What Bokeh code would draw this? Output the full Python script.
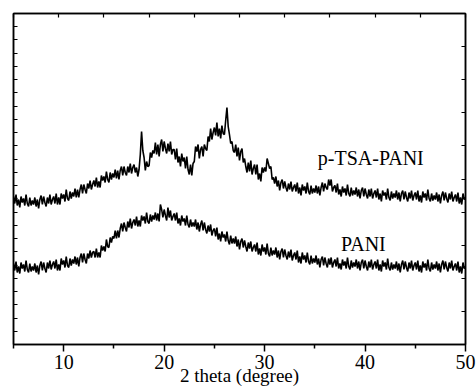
import numpy as np
from bokeh.plotting import figure
from bokeh.models import LinearAxis, FixedTicker, Label, Range1d
from bokeh.embed import file_html
from bokeh.resources import INLINE

# 2-theta scan grid (degrees), 0.125 degree step
two_theta = np.round(np.arange(5.0, 50.001, 0.125), 3)

# Intensity (a.u.), one row per degree
pani = [
    81, 74, 83, 72, 78, 71, 82, 76,
    80, 73, 84, 75, 72, 81, 73, 78,
    74, 81, 72, 79, 70, 79, 83, 74,
    82, 76, 72, 82, 76, 84, 75, 80,
    83, 76, 85, 74, 80, 74, 86, 80,
    84, 77, 88, 79, 77, 86, 79, 85,
    81, 88, 80, 87, 78, 87, 91, 82,
    91, 85, 81, 91, 86, 94, 87, 92,
    93, 87, 96, 87, 92, 87, 99, 94,
    98, 93, 105, 98, 97, 107, 102, 108,
    106, 114, 106, 114, 107, 116, 121, 113,
    122, 117, 113, 123, 117, 126, 116, 122,
    125, 119, 128, 118, 124, 118, 129, 124,
    128, 121, 132, 123, 121, 130, 123, 129,
    125, 132, 124, 131, 123, 140, 135, 127,
    135, 129, 124, 137, 127, 134, 124, 128,
    131, 124, 132, 121, 126, 119, 129, 123,
    126, 119, 129, 120, 117, 125, 118, 122,
    118, 125, 115, 122, 113, 120, 124, 114,
    122, 115, 111, 119, 113, 120, 109, 114,
    116, 108, 117, 105, 111, 103, 113, 107,
    110, 103, 113, 104, 100, 109, 101, 106,
    101, 108, 98, 105, 95, 103, 106, 97,
    104, 98, 93, 102, 96, 103, 93, 97,
    100, 93, 102, 90, 96, 89, 100, 93,
    97, 90, 101, 91, 88, 97, 89, 94,
    90, 97, 87, 94, 85, 93, 96, 87,
    95, 89, 85, 93, 87, 95, 84, 89,
    92, 85, 94, 82, 88, 81, 92, 85,
    89, 82, 92, 83, 80, 89, 81, 86,
    82, 89, 80, 86, 77, 85, 88, 79,
    87, 81, 77, 86, 80, 87, 77, 82,
    85, 78, 87, 76, 81, 75, 85, 79,
    83, 76, 87, 78, 75, 84, 77, 82,
    78, 85, 76, 83, 74, 82, 85, 76,
    84, 78, 74, 83, 77, 85, 75, 80,
    83, 76, 85, 74, 80, 73, 84, 78,
    82, 75, 86, 77, 74, 82, 75, 80,
    76, 83, 74, 81, 72, 80, 84, 75,
    83, 77, 73, 82, 76, 84, 74, 79,
    82, 75, 84, 73, 79, 72, 83, 77,
    81, 74, 85, 76, 73, 82, 75, 80,
    76, 83, 74, 81, 72, 80, 84, 75,
    83, 77, 73, 82, 76, 84, 74, 78,
    81, 74, 83, 72, 78, 71, 82, 76,
    78,
]

ptsa_pani = [
    148, 141, 150, 139, 145, 137, 148, 142,
    146, 139, 150, 141, 138, 147, 139, 144,
    140, 147, 138, 145, 136, 145, 149, 140,
    148, 142, 138, 147, 141, 150, 140, 145,
    148, 141, 151, 140, 147, 140, 151, 146,
    150, 143, 155, 146, 144, 153, 146, 152,
    148, 156, 147, 155, 147, 155, 160, 151,
    160, 155, 151, 161, 156, 164, 155, 160,
    164, 158, 167, 157, 163, 157, 169, 164,
    168, 162, 173, 165, 162, 172, 165, 171,
    167, 175, 166, 174, 165, 174, 178, 169,
    178, 172, 169, 178, 172, 181, 171, 177,
    180, 172, 177, 168, 175, 190, 213, 194,
    187, 174, 183, 178, 179, 192, 187, 194,
    191, 202, 190, 200, 188, 200, 205, 193,
    203, 196, 191, 201, 193, 203, 190, 195,
    195, 185, 196, 182, 188, 178, 191, 183,
    187, 176, 188, 175, 170, 180, 169, 181,
    183, 198, 193, 200, 186, 195, 198, 188,
    200, 196, 194, 208, 203, 216, 205, 212,
    217, 209, 222, 208, 216, 206, 219, 211,
    210, 224, 237, 218, 210, 201, 203, 194,
    192, 200, 188, 197, 184, 193, 196, 182,
    186, 178, 172, 182, 173, 184, 170, 176,
    180, 170, 180, 165, 171, 163, 177, 172,
    177, 173, 186, 181, 176, 178, 165, 167,
    161, 168, 158, 164, 154, 162, 165, 156,
    163, 157, 153, 161, 155, 163, 153, 157,
    160, 153, 162, 151, 157, 149, 160, 154,
    158, 151, 162, 153, 150, 159, 151, 156,
    152, 159, 151, 158, 149, 157, 162, 153,
    161, 157, 155, 165, 159, 165, 153, 157,
    159, 152, 161, 150, 155, 148, 158, 152,
    156, 149, 160, 151, 148, 157, 149, 154,
    150, 157, 148, 155, 146, 154, 157, 148,
    156, 150, 146, 155, 148, 156, 146, 151,
    154, 147, 156, 145, 151, 143, 154, 149,
    152, 145, 156, 147, 144, 153, 146, 151,
    147, 154, 145, 152, 143, 151, 154, 145,
    153, 147, 143, 152, 146, 154, 144, 149,
    152, 145, 154, 143, 149, 142, 153, 147,
    151, 144, 155, 146, 143, 151, 144, 149,
    145, 152, 143, 150, 141, 149, 153, 144,
    152, 146, 142, 151, 145, 153, 143, 147,
    150, 143, 152, 141, 147, 140, 151, 145,
    147,
]

x_major = [10, 20, 30, 40, 50]
x_minor = [5, 15, 25, 35, 45]
x_label = "2 theta (degree)"
series_names = ["p-TSA-PANI", "PANI"]

FONT = "Liberation Serif"
Y_MAX = 331

p = figure(width=476, height=392, output_backend="svg", toolbar_location=None,
           x_range=Range1d(5, 50), y_range=Range1d(0, Y_MAX),
           min_border_left=13, min_border_right=11, min_border_top=13,
           min_border_bottom=48)
p.grid.visible = False
p.outline_line_color = "black"
p.outline_line_width = 1.5
p.background_fill_color = "white"
p.border_fill_color = "white"

xa = p.xaxis[0]
xa.ticker = FixedTicker(ticks=x_major, minor_ticks=x_minor)
xa.major_tick_in = 0
xa.major_tick_out = 7
xa.minor_tick_in = 0
xa.minor_tick_out = 4
xa.axis_line_width = 1.5
xa.major_tick_line_width = 1.5
xa.minor_tick_line_width = 1.5
xa.major_label_text_font = FONT
xa.major_label_text_font_size = "20px"
xa.major_label_text_color = "black"
xa.major_label_standoff = 3
xa.axis_label = x_label
xa.axis_label_text_font = FONT
xa.axis_label_text_font_size = "19px"
xa.axis_label_text_font_style = "normal"
xa.axis_label_text_color = "black"
xa.axis_label_standoff = -7

ya = p.yaxis[0]
ya.ticker = FixedTicker(ticks=[i * Y_MAX / 25 for i in range(26)])
ya.major_tick_in = 4
ya.major_tick_out = 0
ya.minor_tick_line_color = None
ya.axis_line_width = 1.5
ya.major_tick_line_width = 1.2
ya.major_label_text_color = None
ya.major_label_text_font_size = "1px"
ya.major_label_standoff = 0

right = LinearAxis(ticker=FixedTicker(ticks=[i * Y_MAX / 10 for i in range(11)]),
                   major_tick_in=4, major_tick_out=0, minor_tick_line_color=None,
                   axis_line_width=1.5, major_tick_line_width=1.2,
                   major_label_text_color=None,
                   major_label_text_font_size="1px", major_label_standoff=0)
p.add_layout(right, "right")

top = LinearAxis(ticker=FixedTicker(ticks=[5 + 4.5 * i for i in range(11)]),
                 major_tick_in=4, major_tick_out=0, minor_tick_line_color=None,
                 axis_line_width=1.5, major_tick_line_width=1.2,
                 major_label_text_color=None,
                 major_label_text_font_size="1px", major_label_standoff=0)
p.add_layout(top, "above")

p.line(two_theta, ptsa_pani, line_color="black", line_width=1.6)
p.line(two_theta, pani, line_color="black", line_width=1.6)

p.add_layout(Label(x=35.3, y=187, text=series_names[0], text_font=FONT,
                   text_font_size="20px", text_color="black",
                   text_baseline="alphabetic"))
p.add_layout(Label(x=37.6, y=101, text=series_names[1], text_font=FONT,
                   text_font_size="20px", text_color="black",
                   text_baseline="alphabetic"))

open("out.html", "w").write(file_html(p, INLINE))
